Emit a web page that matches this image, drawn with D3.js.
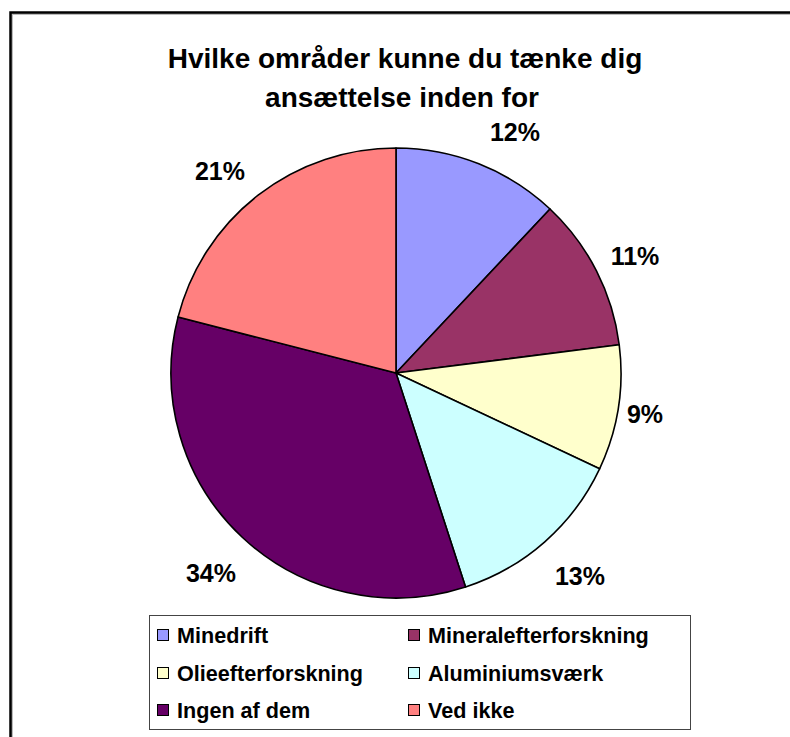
<!DOCTYPE html>
<html><head><meta charset="utf-8">
<script src="https://cdn.jsdelivr.net/npm/d3@7"></script>
<style>html,body{margin:0;padding:0;background:#fff;}svg{display:block;font-family:Arial,"Liberation Sans",sans-serif;}</style>
</head><body>
<script>
const categories = ["Minedrift","Mineralefterforskning","Olieefterforskning","Aluminiumsværk","Ingen af dem","Ved ikke"];
const values = [12, 11, 9, 13, 34, 21];
const colors = ["#9999FF","#993366","#FFFFCC","#CCFFFF","#660066","#FF8080"];
const titleLines = ["Hvilke områder kunne du tænke dig","ansættelse inden for"];
const labelPos = [[515,132],[635,256],[645,414],[580,576],[211,573],[220,171]];

const W = 790, H = 737;
const svg = d3.select("body").append("svg").attr("width", W).attr("height", H);
svg.append("rect").attr("width", W).attr("height", H).attr("fill", "#fff");
// outer border (shadow + line)
svg.append("rect").attr("x", 12).attr("y", 14).attr("width", 800).attr("height", 800)
  .attr("fill", "none").attr("stroke", "#bbb").attr("stroke-width", 2);
svg.append("rect").attr("x", 10.5).attr("y", 12.5).attr("width", 800).attr("height", 800)
  .attr("fill", "none").attr("stroke", "#000").attr("stroke-width", 2.5);

const titleSpec = [{x: 405, y: 68}, {x: 402, y: 107}];
titleLines.forEach((t, i) => svg.append("text").attr("text-anchor", "middle")
  .attr("font-weight", "bold").attr("font-size", 28).attr("fill", "#000")
  .attr("x", titleSpec[i].x).attr("y", titleSpec[i].y).text(t));

const cx = 396, cy = 373, r = 225;
const pie = d3.pie().sort(null).value(d => d);
const arc = d3.arc().innerRadius(0).outerRadius(r);
const g = svg.append("g").attr("transform", `translate(${cx},${cy})`);
g.selectAll("path").data(pie(values)).join("path")
  .attr("d", arc).attr("fill", (d, i) => colors[i])
  .attr("stroke", "#000").attr("stroke-width", 1.6).attr("stroke-linejoin", "round");

svg.append("g").selectAll("text").data(values).join("text")
  .attr("x", (d, i) => labelPos[i][0]).attr("y", (d, i) => labelPos[i][1])
  .attr("text-anchor", "middle").attr("dominant-baseline", "central")
  .attr("font-weight", "bold").attr("font-size", 25).attr("fill", "#000")
  .text(d => d + "%");

// legend
const lg = svg.append("g");
lg.append("rect").attr("x", 149.5).attr("y", 615.5).attr("width", 541).attr("height", 114)
  .attr("fill", "#fff").attr("stroke", "#444").attr("stroke-width", 1);
const colX = [157, 408], textX = [177, 428], rowY = [635, 673, 710];
categories.forEach((c, i) => {
  const col = i % 2, row = Math.floor(i / 2);
  lg.append("rect").attr("x", colX[col] + 0.5).attr("y", rowY[row] - 5.5).attr("width", 11).attr("height", 11)
    .attr("fill", colors[i]).attr("stroke", "#000").attr("stroke-width", 1);
  lg.append("text").attr("x", textX[col]).attr("y", rowY[row]).attr("dominant-baseline", "central")
    .attr("font-weight", "bold").attr("font-size", 21.6).attr("fill", "#000").text(c);
});
</script>
</body></html>
